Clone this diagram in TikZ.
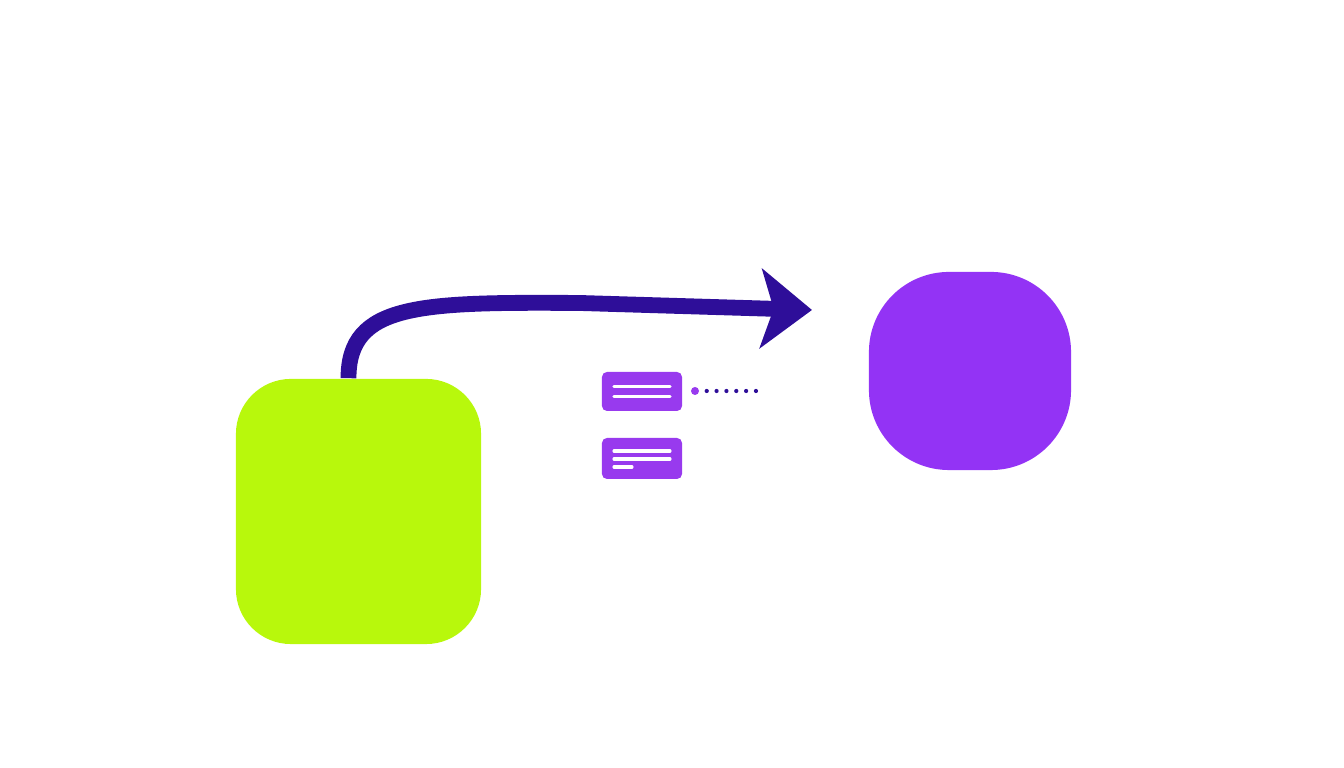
\documentclass[tikz,border=0pt]{standalone}
\usepackage{amsmath}
\usepackage{tikz}
\usetikzlibrary{arrows.meta}

\definecolor{limegreen}{RGB}{184,248,12}
\definecolor{violet}{RGB}{147,51,245}
\definecolor{cardviolet}{RGB}{152,58,238}
\definecolor{indigo}{RGB}{46,14,153}

\tikzset{
    card/.style={fill=cardviolet, rounded corners=0.05cm, minimum width=0.8cm, inner sep=0pt},
    cardline/.style={white, line width=0.9pt, line cap=round},
}

\begin{document}
\begin{tikzpicture}[x=0.01cm, y=-0.01cm]
    \useasboundingbox (0,0) rectangle (1344,768);
    \node[fill=limegreen, rounded corners=0.55cm, minimum width=2.45cm, minimum height=2.65cm, inner sep=0pt] (source) at (358.5,511.5) {};
    \node[fill=violet, rounded corners=0.8cm, minimum width=2.02cm, minimum height=1.98cm, inner sep=0pt] (target) at (970,371) {};
    \coordinate (tip) at (812,310);
    \coordinate (bend) at (580,303);
    \draw[indigo, line width=4.5pt, -{Stealth[length=14.5pt, width=22.5pt, inset=3.6pt]}]
        ([xshift=-0.1cm]source.north) .. controls +(0,-75) and +(-160,-1) .. (bend) -- (tip);

    \node[card, minimum height=0.39cm] (cardA) at (642,391.5) {};
    \draw[cardline] (cardA.center) ++(-28,-5) -- ++(56,0);
    \draw[cardline] (cardA.center) ++(-28,5) -- ++(56,0);
    \node[card, minimum height=0.41cm] (cardB) at (642,458.5) {};
    \draw[cardline] (cardB.center) ++(-28,-7.5) -- ++(56,0);
    \draw[cardline] (cardB.center) ++(-28,0.5) -- ++(56,0);
    \draw[cardline] (cardB.center) ++(-28,8.5) -- ++(18,0);

    \node[circle, fill=cardviolet, minimum size=0.08cm, inner sep=0pt] (pin) at (695,391) {};
    \coordinate (trail) at (757,391);
    \draw[indigo, line width=1.2pt, line cap=round, dash pattern=on 0pt off 2.8pt, dash phase=0.8pt] (pin.east) -- (trail);
\end{tikzpicture}
\end{document}
